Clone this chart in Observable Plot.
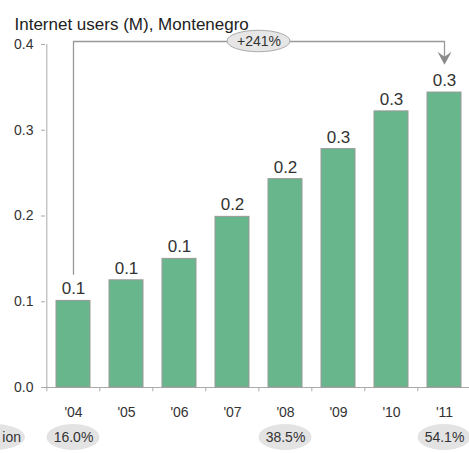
<!DOCTYPE html>
<html>
<head>
<meta charset="utf-8">
<script src="https://cdn.jsdelivr.net/npm/d3@7"></script>
<script src="https://cdn.jsdelivr.net/npm/@observablehq/plot@0.6"></script>
<style>
  html, body { margin: 0; padding: 0; background: #fff; overflow: hidden; }
</style>
</head>
<body>
<div id="chart"></div>
<script>
const title = "Internet users (M), Montenegro";
const years = ["'04", "'05", "'06", "'07", "'08", "'09", "'10", "'11"];
const users = [0.101, 0.125, 0.150, 0.199, 0.243, 0.278, 0.322, 0.344];
const yTicks = [0, 0.1, 0.2, 0.3, 0.4];
const penYears = ["'04", "'08", "'11"];
const penLabels = ["16.0%", "38.5%", "54.1%"];
const penRowLabel = "ion";
const growthLabel = "+241%";

const data = years.map((y, i) => ({year: y, value: users[i]}));
const pen = penYears.map((y, i) => ({year: y, label: penLabels[i]}));
const first = data[0], last = data[data.length - 1];

const W = 469, H = 453, mL = 45, mR = -3, mT = 44, mB = 66;
const step = (W - mR - mL) / years.length;
const pad = 0.353;
const font = "'Liberation Sans', Arial, sans-serif";

// annotation y levels (data units)
const bracketY = 0.4035;
const rowY1 = -0.0431, rowY2 = -0.0735, rowY = -0.0583;

// stealth-style arrowhead pointing down
const arrowHead = {
  draw(ctx) {
    ctx.moveTo(0, 7);
    ctx.lineTo(-7, -6);
    ctx.lineTo(0, -1);
    ctx.lineTo(7, -6);
    ctx.closePath();
  }
};

const chart = Plot.plot({
  width: W,
  height: H,
  marginLeft: mL,
  marginRight: mR,
  marginTop: mT,
  marginBottom: mB,
  style: {fontFamily: font, fontSize: "14px", color: "#333", background: "#fff"},
  x: {type: "band", domain: years, paddingInner: pad, paddingOuter: pad / 2, axis: null},
  y: {domain: [0, 0.4], axis: null},
  marks: [
    // y axis line and ticks
    Plot.ruleX([first.year], {dx: -step / 2, y1: 0, y2: 0.4, stroke: "#aaa"}),
    Plot.axisY(yTicks, {tickSize: 4, tickPadding: 8, tickFormat: d => d.toFixed(1), stroke: "#aaa", fill: "#333", fontSize: 14, label: null}),
    // x axis line and boundary ticks
    Plot.ruleY([0], {stroke: "#aaa"}),
    Plot.ruleX(years, {x: d => d, dx: -step / 2, y1: 0, y2: -0.005, stroke: "#aaa"}),
    Plot.text(years, {x: d => d, y: 0, dy: 25, text: d => d, fontSize: 14, fill: "#333"}),
    // bars
    Plot.barY(data, {x: "year", y: "value", fill: "#67b68c", stroke: "#999", strokeWidth: 1}),
    Plot.text(data, {x: "year", y: "value", dy: -12, text: d => d.value.toFixed(1), fontSize: 17, fill: "#333"}),
    // growth bracket
    Plot.line([
      {x: first.year, y: 0.132},
      {x: first.year, y: bracketY},
      {x: last.year, y: bracketY},
      {x: last.year, y: 0.385}
    ], {x: "x", y: "y", stroke: "#999", strokeWidth: 1.3}),
    Plot.dot([{x: last.year, y: 0.3845}], {x: "x", y: "y", symbol: arrowHead, fill: "#8a8a8a", stroke: "none"}),
    Plot.rect([growthLabel], {y1: bracketY - 0.0125, y2: bracketY + 0.0125, insetLeft: 182, insetRight: 182, rx: 1000, fill: "#e6e6e6", stroke: "#aaa"}),
    Plot.text([growthLabel], {y: bracketY, text: d => d, fontSize: 14, fill: "#333"}),
    // penetration row
    Plot.barY([first.year], {x: d => d, y1: rowY1, y2: rowY2, dx: -60, insetLeft: -35, insetRight: 5, rx: 1000, fill: "#e3e3e3"}),
    Plot.text([penRowLabel], {x: () => first.year, y: rowY, dx: -52.5, textAnchor: "end", text: d => d, fontSize: 14, fill: "#333"}),
    Plot.barY(pen, {x: "year", y1: rowY1, y2: rowY2, insetLeft: -9.5, insetRight: -9.5, rx: 1000, fill: "#e3e3e3"}),
    Plot.text(pen, {x: "year", y: rowY, text: "label", fontSize: 14, fill: "#333"}),
    // title
    Plot.text([title], {frameAnchor: "top-left", dx: -31, dy: -27, textAnchor: "start", text: d => d, fontSize: 17, fill: "#222"})
  ]
});
document.getElementById("chart").appendChild(chart);
</script>
</body>
</html>
